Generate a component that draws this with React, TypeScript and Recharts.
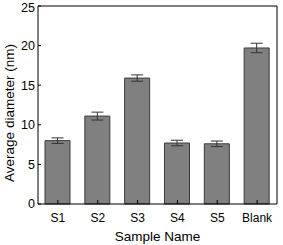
import React from 'react';
import { BarChart, Bar, XAxis, YAxis, ErrorBar } from 'recharts';

const samples = ['S1', 'S2', 'S3', 'S4', 'S5', 'Blank'];
const diameters = [8.0, 11.1, 15.9, 7.7, 7.6, 19.7];
const errors = [0.35, 0.5, 0.4, 0.35, 0.35, 0.6];
const yTicks = [0, 5, 10, 15, 20, 25];

const data = samples.map((name, i) => ({ name, value: diameters[i], err: errors[i] }));

const font = 'Liberation Sans, Arial, sans-serif';

const App: React.FC = () => {
    return (
        <div style={{ position: 'absolute', left: 0, top: 0, width: 283, height: 245, background: '#fff' }}>
            <BarChart
                width={283}
                height={245}
                data={data}
                margin={{ top: 5, right: 5, left: 0, bottom: 0 }}
                barSize={25}
            >
                <XAxis
                    dataKey="name"
                    height={41}
                    stroke="#000"
                    tickSize={-4}
                    tickMargin={13}
                    tick={{ fill: '#000', fontSize: 12, fontFamily: font }}
                    label={{ value: 'Sample Name', position: 'insideBottom', offset: 4, style: { fill: '#000', fontSize: 13.5, fontFamily: font } }}
                />
                <XAxis xAxisId="top" orientation="top" dataKey="name" height={1} stroke="#000" tick={false} tickLine={false} />
                <YAxis
                    domain={[0, 25]}
                    ticks={yTicks}
                    width={38}
                    stroke="#000"
                    tickSize={-3}
                    tickMargin={6}
                    tick={{ fill: '#000', fontSize: 12.5, fontFamily: font }}
                    label={{ value: 'Average diameter (nm)', angle: -90, position: 'insideLeft', offset: 9, dy: 8, style: { textAnchor: 'middle', fill: '#000', fontSize: 13.5, fontFamily: font } }}
                />
                <YAxis yAxisId="right" orientation="right" width={1} domain={[0, 25]} stroke="#000" tick={false} tickLine={false} />
                <Bar dataKey="value" fill="#808080" stroke="#3a3a3a" strokeWidth={1} isAnimationActive={false}>
                    <ErrorBar dataKey="err" width={6} stroke="#333" strokeWidth={1} />
                </Bar>
            </BarChart>
        </div>
    );
};

export default App;
